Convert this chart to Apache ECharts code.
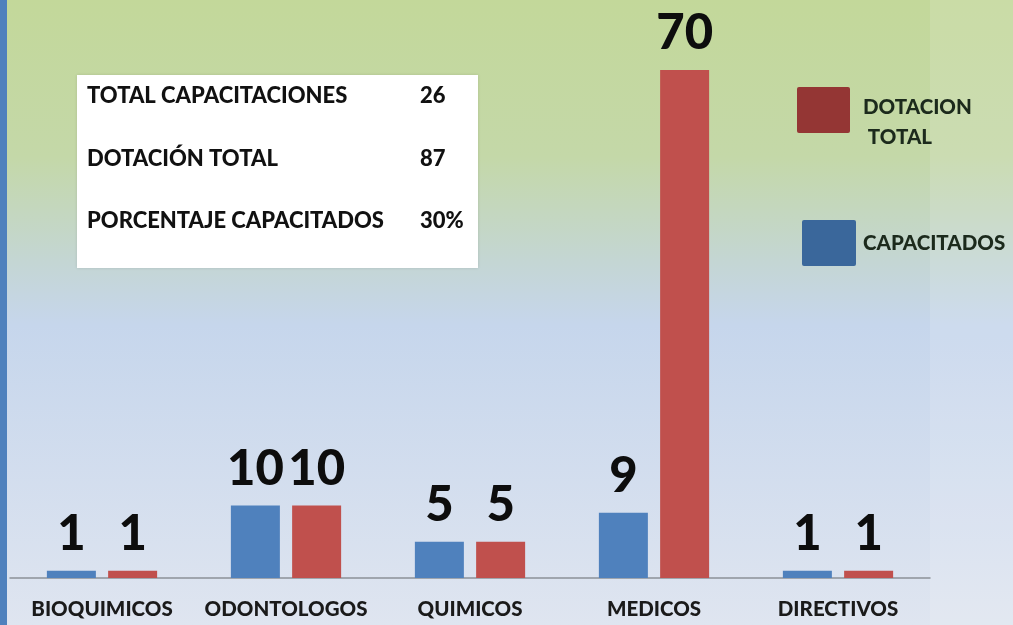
<!DOCTYPE html>
<html>
<head>
<meta charset="utf-8">
<script src="https://cdn.jsdelivr.net/npm/echarts@6/dist/echarts.min.js"></script>
<style>
html,body{margin:0;padding:0;}
#chart{width:1013px;height:625px;}
</style>
</head>
<body>
<div id="chart"></div>
<script>
const categories = ['BIOQUIMICOS', 'ODONTOLOGOS', 'QUIMICOS', 'MEDICOS', 'DIRECTIVOS'];
const capacitados = [1, 10, 5, 9, 1];
const dotacionTotal = [1, 10, 5, 70, 1];
const seriesNames = ['CAPACITADOS', 'DOTACION TOTAL'];
const summaryLabels = ['TOTAL CAPACITACIONES', 'DOTACIÓN TOTAL', 'PORCENTAJE CAPACITADOS'];
const summaryValues = ['26', '87', '30%'];

const FONT = 'Lato, "Open Sans", sans-serif';
const chart = echarts.init(document.getElementById('chart'));

const graphics = [
  { type: 'rect', z: -1, shape: { x: 930, y: 0, width: 83, height: 625 }, style: { fill: 'rgba(255,255,255,0.12)' }, silent: true },
  { type: 'rect', shape: { x: 0, y: 0, width: 7, height: 625 }, style: { fill: '#4f81bd' }, silent: true },
  { type: 'rect', shape: { x: 77, y: 75, width: 401, height: 193 }, style: { fill: '#ffffff', shadowBlur: 3, shadowColor: 'rgba(0,0,0,0.12)' }, silent: true }
];
summaryLabels.forEach((t, i) => {
  graphics.push({ type: 'text', left: 87, top: 85 + i * 62.5, style: { text: t, font: '900 22px ' + FONT, fill: '#111111' }, silent: true });
  graphics.push({ type: 'text', left: 420, top: 85 + i * 62.5, style: { text: summaryValues[i], font: '900 22px ' + FONT, fill: '#111111' }, silent: true });
});
graphics.push({ type: 'rect', shape: { x: 797, y: 87, width: 53, height: 46, r: 2 }, style: { fill: '#943634' }, silent: true });
graphics.push({ type: 'text', left: 863, top: 92, style: { text: 'DOTACION\n TOTAL', font: '900 20.5px ' + FONT, lineHeight: 30, fill: '#1c2a1c' }, silent: true });
graphics.push({ type: 'rect', shape: { x: 802, y: 220, width: 54, height: 46, r: 2 }, style: { fill: '#3a679b' }, silent: true });
graphics.push({ type: 'text', left: 863, top: 233, style: { text: 'CAPACITADOS', font: '900 20.5px ' + FONT, fill: '#1c2a1c' }, silent: true });

const labelStyle = { show: true, position: 'top', distance: 12, fontFamily: FONT, fontWeight: 900, fontSize: 49, color: '#0d0d0d' };

chart.setOption({
  backgroundColor: {
    type: 'linear', x: 0, y: 0, x2: 0, y2: 1,
    colorStops: [
      { offset: 0, color: '#c3d89a' },
      { offset: 0.25, color: '#c4d8a8' },
      { offset: 0.42, color: '#c4d6d4' },
      { offset: 0.52, color: '#c6d6ec' },
      { offset: 1, color: '#dfe5f0' }
    ]
  },
  animation: false,
  graphic: graphics,
  grid: { left: 10, right: 83, top: 70, bottom: 47, containLabel: false },
  xAxis: {
    type: 'category',
    data: categories,
    axisLine: { lineStyle: { color: '#8c9198', width: 1.5 } },
    axisTick: { show: false },
    axisLabel: { interval: 0, margin: 21, fontFamily: FONT, fontWeight: 900, fontSize: 20.5, color: '#1a1a1a' }
  },
  yAxis: {
    type: 'value', min: 0, max: 70, show: false,
    splitLine: { show: false }
  },
  series: [
    { name: seriesNames[0], type: 'bar', data: capacitados, barWidth: 49, barGap: '25%', itemStyle: { color: '#4f81bd' }, label: labelStyle },
    { name: seriesNames[1], type: 'bar', data: dotacionTotal, barWidth: 49, itemStyle: { color: '#c0504d' }, label: labelStyle }
  ]
});
</script>
</body>
</html>
